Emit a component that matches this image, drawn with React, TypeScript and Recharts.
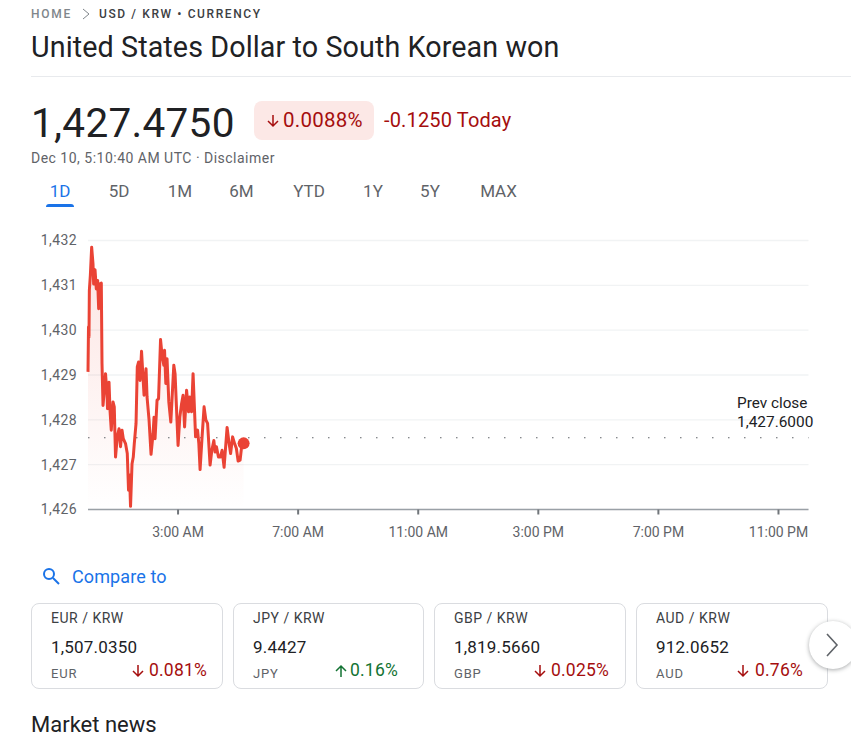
import React from "react";
import { ComposedChart, Area, Line, XAxis, YAxis, CartesianGrid, ReferenceLine, ReferenceDot } from "recharts";

const minutes = [0,1,2,2.7,4.7,7.3,10,11.3,14,16.6,19.3,21.3,23.3,26.6,28,30,32,35,38,39,42,44,46.5,50,52.5,55,58.5,62,65,68,70.5,75,78.5,81,83,85,88,90.5,92.5,96,98.5,101,104,107,112,116,118,122,126,130,132,134,138,141,145,148,151.5,153,155.5,158,161.5,165.5,171.5,174,180,183.5,187,190,193,197,201,203.5,207,210,215,219,221.5,224,228,232,235.5,239,244,247.5,251.5,254,256.7,260.7,264.7,268,272,278,282,285,289,293,296.6,300,304,307,311];
const rates = [1429.07,1430.07,1429.85,1430.89,1431.22,1431.85,1431.48,1431.03,1431.35,1430.92,1431.11,1430.48,1431.03,1431.05,1429.25,1428.32,1428.58,1429.03,1428.58,1428.25,1428.84,1428.21,1427.77,1428.4,1428.29,1427.17,1427.62,1427.8,1427.4,1427.77,1427.58,1427.47,1427.25,1426.43,1426.77,1426.07,1427.02,1427.17,1427.47,1427.92,1429.18,1429.29,1428.88,1429.53,1428.55,1429.14,1428.51,1428.0,1427.23,1427.69,1428.06,1427.58,1428.44,1428.47,1429.79,1429.44,1429.22,1429.55,1428.81,1429.36,1428.4,1427.95,1429.22,1429.03,1427.43,1428.06,1428.36,1428.55,1427.84,1428.66,1428.18,1428.51,1428.18,1429.03,1427.62,1427.77,1427.47,1426.89,1427.62,1428.29,1428.0,1427.92,1426.99,1427.32,1427.54,1427.28,1427.4,1427.17,1427.17,1427.32,1426.94,1427.83,1427.47,1427.25,1427.62,1427.47,1427.36,1427.08,1427.1,1427.4,1427.475];

const xTicks = [180,420,660,900,1140,1380];
const xLabels = ["3:00 AM","7:00 AM","11:00 AM","3:00 PM","7:00 PM","11:00 PM"];
const yTicks = [1426,1427,1428,1429,1430,1431,1432];
const prevClose = 1427.6;
const lastRate = 1427.475;
const lastMinute = 311;
const ranges = ["1D","5D","1M","6M","YTD","1Y","5Y","MAX"];
const rangeX = [60,119,180,241.5,309,373,430,498.5];
const cardPairs = ["EUR / KRW","JPY / KRW","GBP / KRW","AUD / KRW"];
const cardRates = ["1,507.0350","9.4427","1,819.5660","912.0652"];
const cardCodes = ["EUR","JPY","GBP","AUD"];
const cardChanges = ["0.081%","0.16%","0.025%","0.76%"];
const cardUp = [false,true,false,false];
const cardLeft = [31,233,434,636];
const cardWidth = [192,191,192,192];
const changeLeft = [149,350,551,755];
const arrowLeft = [130,333,532,735];

const rows = minutes.map((m, i) => ({ m, v: rates[i] }));
const F = "Roboto, sans-serif";
const RED = "#a50e0e";
const GREEN = "#137333";

function T({ x, y, size, color, children, weight, spacing, center }: any) {
  const style: React.CSSProperties = {
    position: "absolute", left: x, top: y, fontSize: size, color, fontWeight: weight || 400,
    letterSpacing: spacing || 0, lineHeight: "1", whiteSpace: "nowrap", fontFamily: F,
  };
  if (center) style.transform = "translateX(-50%)";
  return <div style={style}>{children}</div>;
}

function Arrow({ x, y, up, color, size = 16 }: any) {
  return (
    <svg style={{ position: "absolute", left: x, top: y }} width={size} height={size} viewBox="0 0 16 16">
      <path d={up ? "M8 14V3M3 8l5-5 5 5" : "M8 2v11M3 8l5 5 5-5"} fill="none" stroke={color} strokeWidth={1.5} />
    </svg>
  );
}

export default function App() {
  return (
    <div style={{ position: "absolute", left: 0, top: 0, width: 851, height: 736, overflow: "hidden", background: "#fff", fontFamily: F }}>
      <T x={31} y={8} size={12} color="#80868b" weight={500} spacing={1.7}>HOME</T>
      <svg style={{ position: "absolute", left: 80, top: 7 }} width={12} height={14} viewBox="0 0 12 14">
        <path d="M3 2l6 5-6 5" fill="none" stroke="#80868b" strokeWidth={1} />
      </svg>
      <T x={99} y={8} size={12} color="#3c4043" weight={500} spacing={1.6}>USD / KRW • CURRENCY</T>
      <T x={31} y={33} size={28.7} color="#202124" spacing={0.1}>United States Dollar to South Korean won</T>
      <div style={{ position: "absolute", left: 31, top: 76, width: 820, height: 1, background: "#e8eaed" }} />

      <T x={31} y={103} size={40.5} color="#202124" spacing={0.3}>1,427.4750</T>
      <div style={{ position: "absolute", left: 254, top: 101, width: 120, height: 39, borderRadius: 8, background: "#fce8e6" }} />
      <Arrow x={265} y={113} up={false} color={RED} />
      <T x={283} y={110} size={20.5} color={RED} spacing={0.25}>0.0088%</T>
      <T x={384} y={110} size={20} color={RED} spacing={0.15}>-0.1250 Today</T>
      <T x={31} y={151} size={14} color="#5f6368" spacing={0.49}>Dec 10, 5:10:40 AM UTC · Disclaimer</T>

      {ranges.map((r, i) => (
        <T key={r} x={rangeX[i]} y={183} size={17} color={i === 0 ? "#1a73e8" : "#5f6368"} center weight={400}>{r}</T>
      ))}
      <div style={{ position: "absolute", left: 46, top: 204, width: 28, height: 3, borderRadius: "3px 3px 0 0", background: "#1a73e8" }} />

      <div style={{ position: "absolute", left: 0, top: 0 }}>
        <ComposedChart width={851} height={560} data={rows} margin={{ top: 240.5, right: 42.5, bottom: 0, left: 0 }}>
          <defs>
            <linearGradient id="fillRed" x1="0" y1="0" x2="0" y2="1">
              <stop offset="0%" stopColor="#ea4335" stopOpacity={0.24} />
              <stop offset="100%" stopColor="#ea4335" stopOpacity={0} />
            </linearGradient>
          </defs>
          <CartesianGrid horizontal vertical={false} stroke="#f1f3f4" strokeWidth={1.3} />
          <XAxis
            dataKey="m" type="number" domain={[0, 1440]} ticks={xTicks} height={50.5}
            tickFormatter={(t: number) => xLabels[xTicks.indexOf(t)]}
            tick={{ fontSize: 14, fill: "#5f6368", fontFamily: F }}
            tickLine={{ stroke: "#70757a", strokeWidth: 2 }} tickSize={5} tickMargin={13}
            axisLine={{ stroke: "#9aa0a6", strokeWidth: 1.5 }} interval={0}
          />
          <YAxis
            type="number" domain={[1426, 1432]} ticks={yTicks} width={88}
            tickFormatter={(t: number) => t.toLocaleString("en-US")}
            tick={{ fontSize: 14, fill: "#5f6368", fontFamily: F, letterSpacing: 0.4 }}
            tickLine={false} axisLine={false} tickSize={0} tickMargin={11}
          />
          <Area dataKey="v" type="linear" stroke="none" fill="url(#fillRed)" isAnimationActive={false} dot={false} activeDot={false} />
          <ReferenceLine y={prevClose} stroke="#5f6368" strokeWidth={1.2} strokeDasharray="1.5 14.5" />
          <Line dataKey="v" type="linear" stroke="#ea4335" strokeWidth={3} dot={false} activeDot={false} isAnimationActive={false} strokeLinejoin="round" />
          <ReferenceDot x={lastMinute} y={lastRate} r={6} fill="#ea4335" stroke="none" />
        </ComposedChart>
      </div>

      <T x={737} y={396} size={15.3} color="#202124">Prev close</T>
      <T x={737} y={415} size={15.4} color="#202124">1,427.6000</T>

      <svg style={{ position: "absolute", left: 41, top: 566 }} width={20} height={20} viewBox="0 0 20 20">
        <circle cx={8} cy={8} r={5} fill="none" stroke="#1a73e8" strokeWidth={2} />
        <path d="M12 12l6 6" stroke="#1a73e8" strokeWidth={2} />
      </svg>
      <T x={72} y={568} size={18} color="#1a73e8" spacing={0.1}>Compare to</T>

      {cardPairs.map((p, i) => (
        <div key={p}>
          <div style={{ position: "absolute", left: cardLeft[i], top: 603, width: cardWidth[i] - 2, height: 84, border: "1px solid #dadce0", borderRadius: 8 }} />
          <T x={cardLeft[i] + 20} y={611} size={14} color="#3c4043" spacing={0.5}>{p}</T>
          <T x={cardLeft[i] + 20} y={638.5} size={17} color="#202124" spacing={0.2}>{cardRates[i]}</T>
          <T x={cardLeft[i] + 20} y={667} size={13} color="#5f6368" spacing={0.8}>{cardCodes[i]}</T>
          <T x={changeLeft[i]} y={662} size={17.5} color={cardUp[i] ? GREEN : RED} spacing={0.2}>{cardChanges[i]}</T>
          <Arrow x={arrowLeft[i]} y={663} up={cardUp[i]} color={cardUp[i] ? GREEN : RED} />
        </div>
      ))}

      <div style={{ position: "absolute", left: 809, top: 621, width: 48, height: 48, borderRadius: 24, background: "#fff", boxShadow: "0 1px 4px rgba(60,64,67,.45)" }} />
      <svg style={{ position: "absolute", left: 824, top: 632 }} width={16} height={26} viewBox="0 0 16 26">
        <path d="M3 2l10 11-10 11" fill="none" stroke="#5f6368" strokeWidth={1.6} />
      </svg>

      <T x={31} y={714} size={22} color="#202124">Market news</T>
    </div>
  );
}
